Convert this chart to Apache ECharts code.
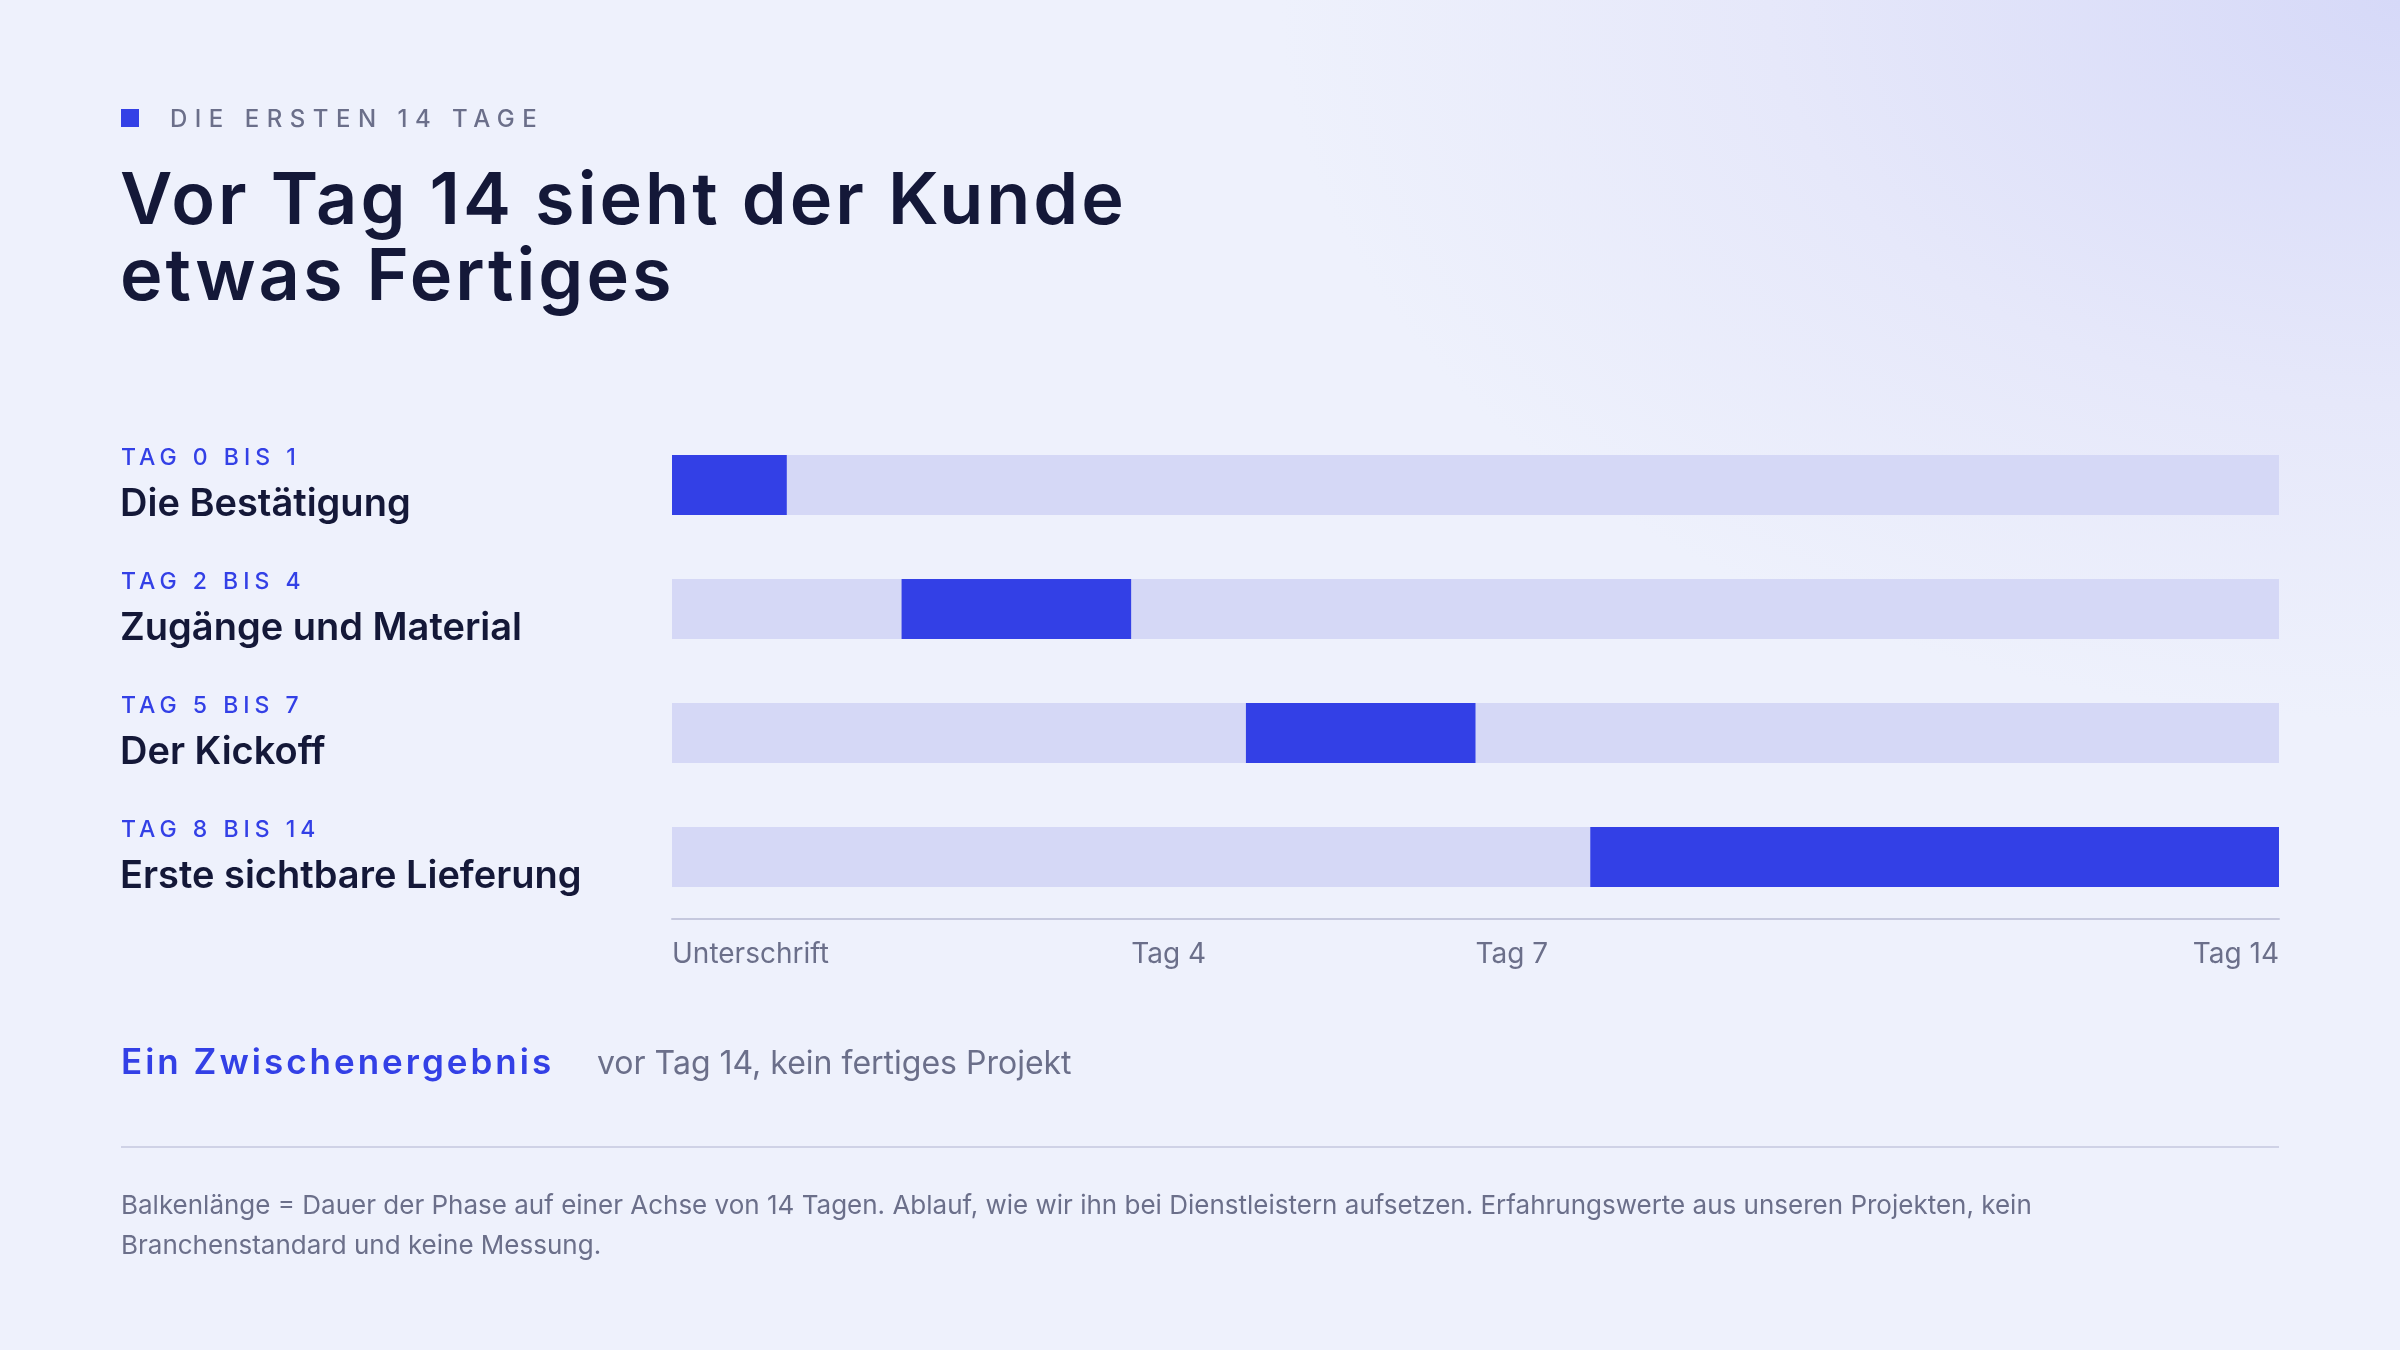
<!DOCTYPE html>
<html><head><meta charset="utf-8">
<script src="https://cdn.jsdelivr.net/npm/echarts@6/dist/echarts.min.js"></script>
<style>
html,body{margin:0;width:2400px;height:1350px;overflow:hidden;font-family:Inter,"Noto Sans",sans-serif;}
body{background:radial-gradient(ellipse 1400px 900px at 2400px 0px,#d6d9f8 0%,#e6e8fa 45%,#eef1fc 80%);background-color:#eef1fc;}
#c{position:absolute;left:0;top:0;width:2400px;height:1350px;}
.t{position:absolute;white-space:nowrap;}
</style></head><body>
<div id="c"></div>
<div class="t" style="left:121px;top:109px;width:18px;height:18px;background:#3340e6"></div>
<div class="t" style="left:170px;top:104px;font-size:24px;letter-spacing:7.5px;color:#6b6f8a;font-weight:500">DIE ERSTEN 14 TAGE</div>
<div class="t" style="left:120px;top:160px;font-size:72px;line-height:76px;letter-spacing:3px;color:#141838;font-weight:600">Vor Tag 14 sieht der Kunde<br>etwas Fertiges</div>
<div id="rows"></div>
<div class="t" style="left:121px;top:1040px;font-size:35px;letter-spacing:3px;color:#3340e6;font-weight:600">Ein Zwischenergebnis</div>
<div class="t" style="left:597px;top:1043px;font-size:32px;color:#6b6f8a">vor Tag 14, kein fertiges Projekt</div>
<div class="t" style="left:121px;top:1146px;width:2158px;height:2px;background:#cfd2e6"></div>
<div class="t" style="left:121px;top:1185px;font-size:26px;line-height:40px;color:#6b6f8a;white-space:normal;width:2100px">Balkenlänge = Dauer der Phase auf einer Achse von 14 Tagen. Ablauf, wie wir ihn bei Dienstleistern aufsetzen. Erfahrungswerte aus unseren Projekten, kein Branchenstandard und keine Messung.</div>
<script>
const phases=["TAG 0 BIS 1","TAG 2 BIS 4","TAG 5 BIS 7","TAG 8 BIS 14"];
const names=["Die Bestätigung","Zugänge und Material","Der Kickoff","Erste sichtbare Lieferung"];
const starts=[0,2,5,8];
const ends=[1,4,7,14];
const tickLabels={0:"Unterschrift",4:"Tag 4",7:"Tag 7",14:"Tag 14"};
const total=14;
const rows=document.getElementById('rows');
phases.forEach((p,i)=>{
  const y=443+i*124;
  rows.insertAdjacentHTML('beforeend',`<div class="t" style="left:121px;top:${y}px;font-size:23px;letter-spacing:5px;color:#3340e6;font-weight:500">${p}</div><div class="t" style="left:120px;top:${y+36}px;font-size:38px;color:#141838;font-weight:600">${names[i]}</div>`);
});
const ch=echarts.init(document.getElementById('c'));
ch.setOption({
  animation:false,
  grid:{left:672,right:121,top:423,bottom:431},
  xAxis:{type:'value',min:0,max:total,interval:1,splitLine:{show:false},
    axisLine:{show:true,lineStyle:{color:'#c5c8de',width:2}},axisTick:{show:false},
    axisLabel:{formatter:v=>tickLabels[v]||'',color:'#6b6f8a',fontSize:28,margin:22,align:'left',alignMaxLabel:'right',fontFamily:'Inter'}},
  yAxis:{type:'category',inverse:true,data:names,show:false},
  series:[
    {type:'bar',data:names.map(()=>total),barWidth:60,itemStyle:{color:'#d5d8f6'},silent:true,barGap:'-100%'},
    {type:'bar',stack:'s',data:starts,barWidth:60,itemStyle:{color:'transparent'}},
    {type:'bar',stack:'s',data:ends.map((e,i)=>e-starts[i]),barWidth:60,itemStyle:{color:'#3340e6'}}
  ]
});
</script>
</body></html>
